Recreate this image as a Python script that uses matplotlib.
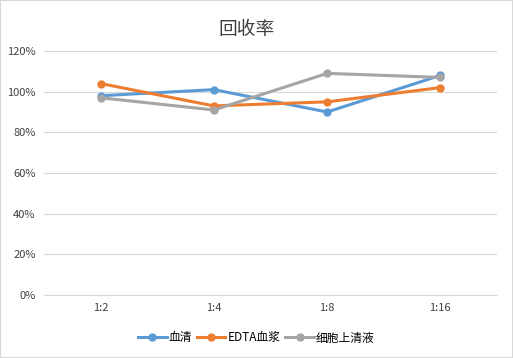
import numpy as np
import matplotlib
matplotlib.use("Agg")
import matplotlib.pyplot as plt
from matplotlib.ticker import PercentFormatter

plt.rcParams['font.family'] = ['Noto Sans CJK SC', 'DejaVu Sans']

categories = ["1:2", "1:4", "1:8", "1:16"]
serum = [98, 101, 90, 108]
edta_plasma = [104, 93, 95, 102]
supernatant = [97, 91, 109, 107]
series_names = ["血清", "EDTA血浆", "细胞上清液"]
colors = ["#5B9BD5", "#ED7D31", "#A5A5A5"]

fig = plt.figure(figsize=(5.13, 3.58), dpi=100)
ax = fig.add_axes([44 / 513, 1 - 295 / 358, 453 / 513, 244 / 358])

x = np.arange(len(categories))
for vals, name, c in zip([serum, edta_plasma, supernatant], series_names, colors):
    ax.plot(x, vals, color=c, linewidth=2.2, marker='o', markersize=5, label=name)

ax.set_xlim(-0.5, len(categories) - 0.5)
ax.set_ylim(0, 120)
ax.set_yticks(np.arange(0, 121, 20))
ax.yaxis.set_major_formatter(PercentFormatter(decimals=0))
ax.set_xticks(x)
ax.set_xticklabels(categories)
ax.grid(axis='y', color='#D9D9D9', linewidth=0.8)
ax.set_axisbelow(True)
for s in ['top', 'right', 'left']:
    ax.spines[s].set_visible(False)
ax.spines['bottom'].set_color('#D9D9D9')
ax.tick_params(length=0, labelsize=8, colors='#404040', pad=6)

fig.text(247 / 513, 1 - 30 / 358, "回收率", ha='center', va='center', fontsize=13.5, color='#404040')

fig.legend(loc='center', bbox_to_anchor=(0.5, 1 - 338 / 358), ncol=3, frameon=False,
           fontsize=8.5, handlelength=2.4, handletextpad=0.2, columnspacing=0.4)

# outer border
fig.patches.append(plt.Rectangle((0, 0), 1, 1, transform=fig.transFigure, fill=False,
                                 edgecolor='#D9D9D9', linewidth=1.5))

fig.savefig("out.png", dpi=100)
